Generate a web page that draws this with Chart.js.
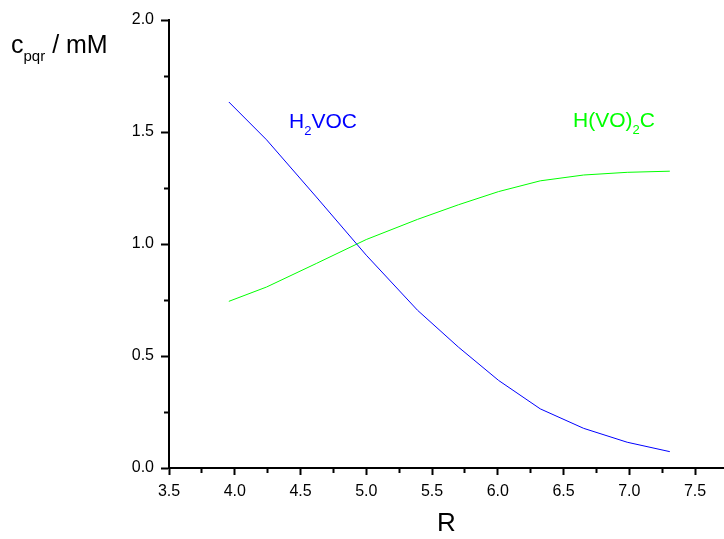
<!DOCTYPE html>
<html>
<head>
<meta charset="utf-8">
<script src="https://cdn.jsdelivr.net/npm/chart.js@4/dist/chart.umd.min.js"></script>
<style>
  html, body { margin: 0; padding: 0; background: #fff; }
  #wrap { width: 724px; height: 539px; }
</style>
</head>
<body>
<div id="wrap"><canvas id="chart" width="724" height="539"></canvas></div>
<script>
// values
const ratioR = [3.955, 4.242, 4.62, 5.0, 5.39, 5.70, 6.006, 6.323, 6.653, 6.984, 7.308];
const h2voc = [1.634, 1.465, 1.21, 0.95, 0.704, 0.54, 0.391, 0.264, 0.177, 0.115, 0.073];
const hvo2c = [0.744, 0.808, 0.913, 1.02, 1.110, 1.175, 1.234, 1.282, 1.308, 1.320, 1.325];
const xTicks = [3.5, 3.75, 4.0, 4.25, 4.5, 4.75, 5.0, 5.25, 5.5, 5.75, 6.0, 6.25, 6.5, 6.75, 7.0, 7.25, 7.5];
const yTicks = [0, 0.25, 0.5, 0.75, 1.0, 1.25, 1.5, 1.75, 2.0];

const FONT = '"Liberation Sans", Arial, sans-serif';
const toPoints = (xs, ys) => xs.map((x, i) => ({ x: x, y: ys[i] }));
const isMajor = v => Math.abs(v * 2 - Math.round(v * 2)) < 1e-6;

// text with a subscript part, drawn left to right
const drawParts = (ctx, x, y, parts, color) => {
    ctx.fillStyle = color;
    ctx.textBaseline = 'alphabetic';
    ctx.textAlign = 'left';
    parts.forEach(p => {
        ctx.font = p.size + 'px ' + FONT;
        ctx.fillText(p.t, x, y + (p.dy || 0));
        x += ctx.measureText(p.t).width;
    });
};

const labelsPlugin = {
    id: 'labels',
    afterDraw(chart) {
        const ctx = chart.ctx;
        ctx.save();
        drawParts(ctx, 11, 53, [
            { t: 'c', size: 25 },
            { t: 'pqr', size: 15, dy: 8 },
            { t: ' / mM', size: 25 }
        ], '#000');
        drawParts(ctx, 289, 128, [
            { t: 'H', size: 21 },
            { t: '2', size: 13, dy: 7 },
            { t: 'VOC', size: 21 }
        ], '#0000ff');
        drawParts(ctx, 573, 127, [
            { t: 'H(VO)', size: 21 },
            { t: '2', size: 13, dy: 7 },
            { t: 'C', size: 21 }
        ], '#00ff00');
        ctx.restore();
    }
};

const axisGrid = (len, minorLen, outerFirst) => ({
    drawOnChartArea: false,
    drawTicks: true,
    tickLength: len,
    tickWidth: 2,
    tickColor: '#000',
    tickBorderDash: c => {
        if (!c.tick || isMajor(c.tick.value)) return [];
        return outerFirst ? [0, len - minorLen, minorLen, 0] : [minorLen, len];
    }
});

new Chart(document.getElementById('chart').getContext('2d'), {
    type: 'scatter',
    data: {
        datasets: [{
            label: 'H2VOC',
            data: toPoints(ratioR, h2voc),
            showLine: true,
            borderColor: '#0000ff',
            borderWidth: 1,
            pointRadius: 0,
            tension: 0
        }, {
            label: 'H(VO)2C',
            data: toPoints(ratioR, hvo2c),
            showLine: true,
            borderColor: '#00ff00',
            borderWidth: 1,
            pointRadius: 0,
            tension: 0
        }]
    },
    options: {
        responsive: false,
        animation: false,
        layout: { padding: { top: 20, right: 0, bottom: 0, left: 0 } },
        plugins: {
            legend: { display: false },
            tooltip: { enabled: false }
        },
        scales: {
            x: {
                type: 'linear',
                min: 3.5,
                max: 7.72,
                afterBuildTicks: s => { s.ticks = xTicks.map(v => ({ value: v })); },
                afterFit: s => { s.height = 71; },
                border: { color: '#000', width: 2 },
                grid: axisGrid(7, 4, false),
                ticks: {
                    autoSkip: false,
                    maxRotation: 0,
                    padding: 7,
                    color: '#000',
                    font: { family: FONT, size: 16 },
                    callback: v => isMajor(v) ? v.toFixed(1) : ''
                },
                title: {
                    display: true,
                    text: 'R',
                    color: '#000',
                    font: { family: FONT, size: 26 },
                    padding: { top: 0, bottom: 0 }
                }
            },
            y: {
                type: 'linear',
                min: 0,
                max: 2,
                afterBuildTicks: s => { s.ticks = yTicks.map(v => ({ value: v })); },
                afterFit: s => { s.width = 169; },
                border: { color: '#000', width: 2 },
                grid: axisGrid(8, 5, true),
                ticks: {
                    autoSkip: false,
                    padding: 7,
                    color: '#000',
                    font: { family: FONT, size: 16 },
                    callback: v => isMajor(v) ? v.toFixed(1) : ''
                }
            }
        }
    },
    plugins: [labelsPlugin]
});
</script>
</body>
</html>
